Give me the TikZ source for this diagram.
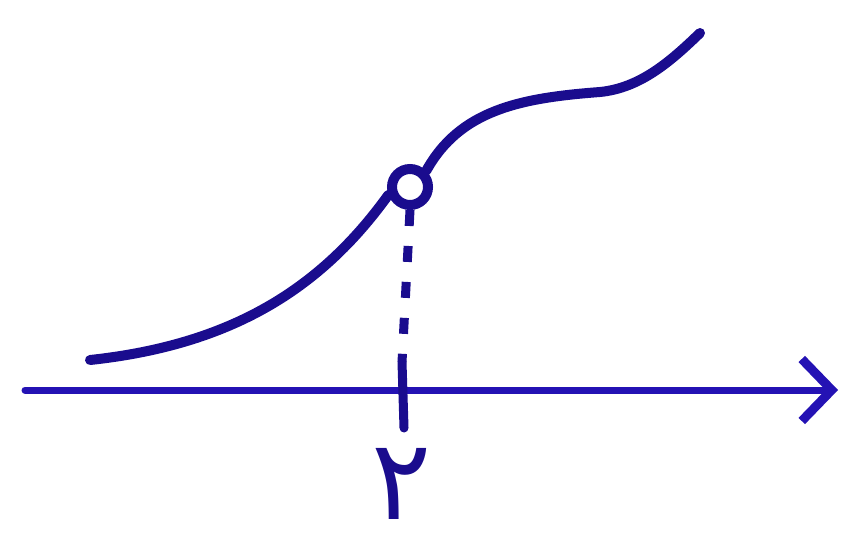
\documentclass[tikz,border=0pt]{standalone}
\usepackage{fontspec}
\usepackage{tikz}
\usetikzlibrary{arrows.meta,positioning,calc}
\newfontfamily\arabicfont[Script=Arabic]{DejaVu Sans}
\definecolor{Tinta}{HTML}{1A0C8E}
\definecolor{TintaEje}{HTML}{2412B4}

\begin{document}
\begin{tikzpicture}[x=1pt,y=-1pt,
        curva/.style={draw=Tinta,line width=10pt,line cap=round},
        eje/.style={draw=TintaEje,line width=7pt,line cap=round,-{Straight Barb[length=30pt,width=62pt,line width=9pt]}},
        hueco/.style={circle,draw=Tinta,fill=white,line width=10pt,minimum size=36pt,inner sep=0pt},
        guia/.style={draw=Tinta,line width=9pt,dash pattern=on 16pt off 20pt},
        etiqueta/.style={text=Tinta,font=\arabicfont\fontsize{112}{112}\selectfont,inner sep=0pt}]
        \useasboundingbox (0,0) rectangle (861,546);
        \coordinate (e0) at (25,390);\coordinate (e1) at (838,390);
        \coordinate (c0) at (90,360);\coordinate (c1) at (700,33);
        \coordinate (t0) at (402,362);\coordinate (t1) at (404,428);
        \node[hueco] (h) at (410,187) {};
        \node[etiqueta] (dos) at (402,484) {۲};
        \draw[eje] (e0) -- (e1);
        \draw[curva] (c0) .. controls (230,345) and (320,290) .. (h.200);
        \draw[curva] (h.45) .. controls (460,110) and (520,98) .. (600,92) .. controls (640,88) and (670,62) .. (c1);
        \draw[guia] (h.south) -- (t0);
        \draw[curva,line width=9pt] (t0) -- (t1);
      \end{tikzpicture}
\end{document}
